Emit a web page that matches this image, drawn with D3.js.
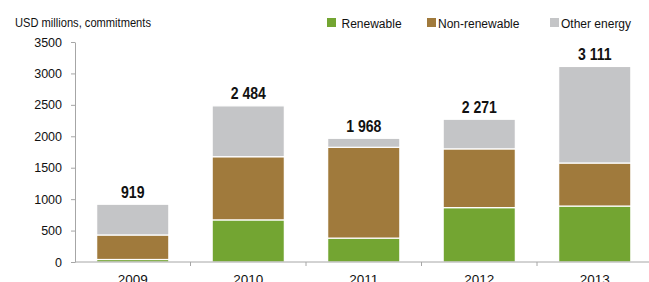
<!DOCTYPE html>
<html>
<head>
<meta charset="utf-8">
<script src="https://cdn.jsdelivr.net/npm/d3@7"></script>
<style>
  body { margin: 0; background: #fff; }
  svg { font-family: "Liberation Sans", Arial, sans-serif; }
  .axis path, .axis line { stroke: #a6a6a6; }
  .axis text { font-size: 12.5px; fill: #111; }
</style>
</head>
<body>
<div class="chart_container"></div>
<script>
var width = 649
var height = 282
var narrow = 0.89

var years = ["2009", "2010", "2011", "2012", "2013"]
var renewable = [40, 670, 380, 865, 890]
var nonRenewable = [390, 1005, 1445, 935, 685]
var otherEnergy = [489, 809, 143, 471, 1536]
var totalLabels = ["919", "2 484", "1 968", "2 271", "3 111"]
var seriesNames = ["Renewable", "Non-renewable", "Other energy"]
var seriesColors = ["#73a532", "#a07a3c", "#c4c5c7"]
var yTicks = [0, 500, 1000, 1500, 2000, 2500, 3000, 3500]

var rows = years.map(function (y, i) {
  return { year: y, r: renewable[i], n: nonRenewable[i], o: otherEnergy[i], label: totalLabels[i] }
})

var svg = d3.select(".chart_container").append("svg")
            .attr("width", width)
            .attr("height", height)

var x = d3.scaleBand()
          .domain(years)
          .range([75, 652.5])
          .paddingInner(0.375)
          .paddingOuter(0.1875)

var y = d3.scaleLinear()
          .domain([0, 3500])
          .range([262, 42])

var stack = d3.stack().keys(["r", "n", "o"])
var layers = stack(rows)

svg.selectAll("g.layer")
   .data(layers)
   .enter()
   .append("g")
   .attr("class", "layer")
   .attr("fill", function (d, i) { return seriesColors[i] })
   .selectAll("rect")
   .data(function (d) { return d })
   .enter()
   .append("rect")
   .attr("x", function (d) { return x(d.data.year) })
   .attr("width", x.bandwidth())
   .attr("y", function (d) { return y(d[1]) })
   .attr("height", function (d) { return y(d[0]) - y(d[1]) })
   .attr("stroke", "#fff")
   .attr("stroke-width", 1.2)

// totals above the bars (squeezed to look like the condensed face)
svg.selectAll("text.total")
   .data(rows)
   .enter()
   .append("text")
   .attr("class", "total")
   .attr("transform", function (d) {
     return "translate(" + (x(d.year) + x.bandwidth() / 2) + "," + (y(d.r + d.n + d.o) - 6.5) + ") scale(0.88,1)"
   })
   .attr("text-anchor", "middle")
   .style("font-size", "16px")
   .style("font-weight", "bold")
   .attr("fill", "#111")
   .text(function (d) { return d.label })

var axisLeft = d3.axisLeft(y).tickValues(yTicks)
                 .tickSizeInner(4)
                 .tickSizeOuter(0)
                 .tickPadding(9)
                 .tickFormat(d3.format("d"))

svg.append("g")
   .attr("class", "axis")
   .attr("transform", "translate(75,0)")
   .call(axisLeft)

// bottom axis: ticks sit between the categories
var axisBottom = d3.axisBottom(x).tickSize(0).tickPadding(12)

var gx = svg.append("g")
   .attr("class", "axis")
   .attr("transform", "translate(0,262)")
   .call(axisBottom)
gx.select(".domain").remove()
gx.selectAll("text").style("font-size", "13.5px")

gx.append("line")
  .attr("x1", 75).attr("x2", width)
  .attr("stroke", "#a6a6a6")

gx.selectAll("line.sep")
  .data(years.slice(1))
  .enter()
  .append("line")
  .attr("class", "sep")
  .attr("x1", function (d) { return x(d) - x.step() * x.paddingInner() / 2 })
  .attr("x2", function (d) { return x(d) - x.step() * x.paddingInner() / 2 })
  .attr("y1", 0).attr("y2", 4)
  .attr("stroke", "#a6a6a6")

svg.append("text")
   .attr("transform", "translate(15,27) scale(" + narrow + ",1)")
   .style("font-size", "12.5px")
   .attr("fill", "#111")
   .text("USD millions, commitments")

// legend
var legendX = [327, 427, 550]
var legend = svg.selectAll("g.legend")
                .data(seriesNames)
                .enter()
                .append("g")
                .attr("class", "legend")
                .attr("transform", function (d, i) { return "translate(" + legendX[i] + ",18)" })

legend.append("rect")
      .attr("width", 9)
      .attr("height", 9)
      .attr("fill", function (d, i) { return seriesColors[i] })

legend.append("text")
      .attr("transform", function (d, i) {
        return "translate(" + (i == 0 ? 14.5 : 11) + ",9.5) scale(" + narrow + ",1)"
      })
      .style("font-size", "13.5px")
      .attr("fill", "#111")
      .text(function (d) { return d })
</script>
</body>
</html>
